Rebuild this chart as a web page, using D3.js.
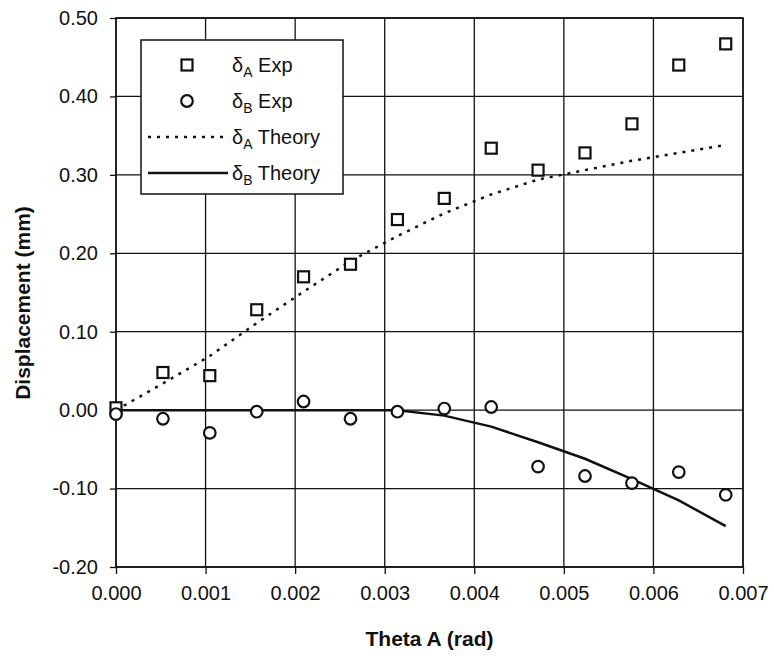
<!DOCTYPE html>
<meta charset="utf-8">
<html>
  <head>
    <title>Displacement vs Theta A</title>
    <script src="https://d3js.org/d3.v7.min.js"></script>
    <style>
      body { margin: 0; background: #fff; font-family: "Liberation Sans", Arial, sans-serif; }
      svg { display: block; }
      .tick text { font-size: 20px; fill: #111; }
      .grid line { stroke: #111; stroke-width: 1.3px; }
      .legend text { font-size: 20px; fill: #111; }
    </style>
  </head>
  <body>
    <div id="chart"></div>
    <script>
      // theta A (rad) of each measurement
      var thetaA = [0.0000, 0.000524, 0.001047, 0.001571, 0.002094, 0.002618, 0.003142,
                    0.003665, 0.004189, 0.004712, 0.005236, 0.005760, 0.006283, 0.006807];
      // measured displacements (mm)
      var deltaAExp = [0.003, 0.048, 0.044, 0.128, 0.170, 0.186, 0.243,
                       0.270, 0.334, 0.306, 0.328, 0.365, 0.440, 0.467];
      var deltaBExp = [-0.005, -0.011, -0.029, -0.002, 0.011, -0.011, -0.002,
                       0.002, 0.004, -0.072, -0.084, -0.093, -0.079, -0.108];
      // theory curves (mm)
      var deltaATheory = [0.000, 0.034, 0.069, 0.111, 0.151, 0.190, 0.222,
                          0.251, 0.275, 0.294, 0.306, 0.318, 0.328, 0.338];
      var deltaBTheory = [0.000, 0.000, 0.000, 0.000, 0.000, 0.000, 0.000,
                          -0.007, -0.021, -0.041, -0.062, -0.088, -0.115, -0.148];
      var xTicks = [0, 0.001, 0.002, 0.003, 0.004, 0.005, 0.006, 0.007];
      var yTicks = [-0.2, -0.1, 0, 0.1, 0.2, 0.3, 0.4, 0.5];

      var width = 774, height = 656;
      var margin = {top: 18, right: 31, bottom: 89, left: 116};

      var svg = d3.select("#chart").append("svg")
          .attr("width", width)
          .attr("height", height);

      var x = d3.scaleLinear().domain([0, 0.007]).range([margin.left, width - margin.right]);
      var y = d3.scaleLinear().domain([-0.2, 0.5]).range([height - margin.bottom, margin.top]);

      // plain hyphen for negatives, like the original
      var fmtY = d => d3.format(".2f")(d).replace("\u2212", "-");

      // gridlines
      var grid = svg.append("g").attr("class", "grid");
      grid.selectAll(".vx").data(xTicks).enter().append("line")
          .attr("x1", d => x(d)).attr("x2", d => x(d))
          .attr("y1", y(0.5)).attr("y2", y(-0.2));
      grid.selectAll(".hy").data(yTicks).enter().append("line")
          .attr("x1", x(0)).attr("x2", x(0.007))
          .attr("y1", d => y(d)).attr("y2", d => y(d));

      // axes
      svg.append("g")
          .attr("transform", "translate(0," + y(-0.2) + ")")
          .call(d3.axisBottom(x).tickValues(xTicks).tickFormat(d3.format(".3f")).tickSize(7).tickPadding(12))
          .call(g => g.select(".domain").remove())
          .call(g => g.selectAll("line").attr("stroke", "#111").attr("stroke-width", 1.3));

      svg.append("g")
          .attr("transform", "translate(" + x(0) + ",0)")
          .call(d3.axisLeft(y).tickValues(yTicks).tickFormat(fmtY).tickSize(6).tickPadding(12))
          .call(g => g.select(".domain").remove())
          .call(g => g.selectAll("line").attr("stroke", "#111").attr("stroke-width", 1.3));

      // frame
      svg.append("rect")
          .attr("x", x(0)).attr("y", y(0.5))
          .attr("width", x(0.007) - x(0)).attr("height", y(-0.2) - y(0.5))
          .attr("fill", "none").attr("stroke", "#111").attr("stroke-width", 1.5);

      // theory lines
      var line = d3.line().x(d => x(d[0])).y(d => y(d[1]));
      svg.append("path")
          .datum(d3.zip(thetaA, deltaATheory))
          .attr("d", line)
          .attr("fill", "none").attr("stroke", "#111")
          .attr("stroke-width", 2.5).attr("stroke-dasharray", "3,6");
      svg.append("path")
          .datum(d3.zip(thetaA, deltaBTheory))
          .attr("d", line)
          .attr("fill", "none").attr("stroke", "#111").attr("stroke-width", 2.5);

      // experimental points
      var ms = 11;
      svg.append("g").selectAll("rect").data(d3.zip(thetaA, deltaAExp)).enter().append("rect")
          .attr("x", d => x(d[0]) - ms / 2).attr("y", d => y(d[1]) - ms / 2)
          .attr("width", ms).attr("height", ms)
          .attr("fill", "#fff").attr("stroke", "#111").attr("stroke-width", 2.2);
      svg.append("g").selectAll("circle").data(d3.zip(thetaA, deltaBExp)).enter().append("circle")
          .attr("cx", d => x(d[0])).attr("cy", d => y(d[1]))
          .attr("r", 5.8)
          .attr("fill", "#fff").attr("stroke", "#111").attr("stroke-width", 2.2);

      // legend
      var legend = svg.append("g").attr("class", "legend");
      legend.append("rect")
          .attr("x", 141).attr("y", 40).attr("width", 202).attr("height", 154)
          .attr("fill", "#fff").attr("stroke", "#111").attr("stroke-width", 1.5);

      var items = [
        {sub: "A", label: " Exp", kind: "square"},
        {sub: "B", label: " Exp", kind: "circle"},
        {sub: "A", label: " Theory", kind: "dash"},
        {sub: "B", label: " Theory", kind: "solid"}
      ];
      var rows = legend.selectAll(".row").data(items).enter().append("g")
          .attr("transform", (d, i) => "translate(0," + (65 + i * 36) + ")");

      rows.filter(d => d.kind == "square").append("rect")
          .attr("x", 187 - ms / 2).attr("y", -ms / 2).attr("width", ms).attr("height", ms)
          .attr("fill", "#fff").attr("stroke", "#111").attr("stroke-width", 2.2);
      rows.filter(d => d.kind == "circle").append("circle")
          .attr("cx", 187).attr("cy", 0).attr("r", 5.8)
          .attr("fill", "#fff").attr("stroke", "#111").attr("stroke-width", 2.2);
      rows.filter(d => d.kind == "dash" || d.kind == "solid").append("line")
          .attr("x1", 148).attr("x2", 228).attr("y1", 0).attr("y2", 0)
          .attr("stroke", "#111").attr("stroke-width", 2.5)
          .attr("stroke-dasharray", d => d.kind == "dash" ? "3,6" : null);

      var t = rows.append("text").attr("x", 232).attr("y", 7);
      t.append("tspan").text("δ");
      t.append("tspan").attr("dy", 5).style("font-size", "14px").text(d => d.sub);
      t.append("tspan").attr("dy", -5).text(d => d.label);

      // axis titles
      svg.append("text")
          .attr("x", (x(0) + x(0.007)) / 2).attr("y", 646)
          .attr("text-anchor", "middle")
          .style("font-size", "21px").style("font-weight", "bold").attr("fill", "#111")
          .text("Theta A (rad)");
      svg.append("text")
          .attr("transform", "translate(30," + 303 + ") rotate(-90)")
          .attr("text-anchor", "middle")
          .style("font-size", "21px").style("font-weight", "bold").attr("fill", "#111")
          .text("Displacement (mm)");
    </script>
  </body>
</html>
